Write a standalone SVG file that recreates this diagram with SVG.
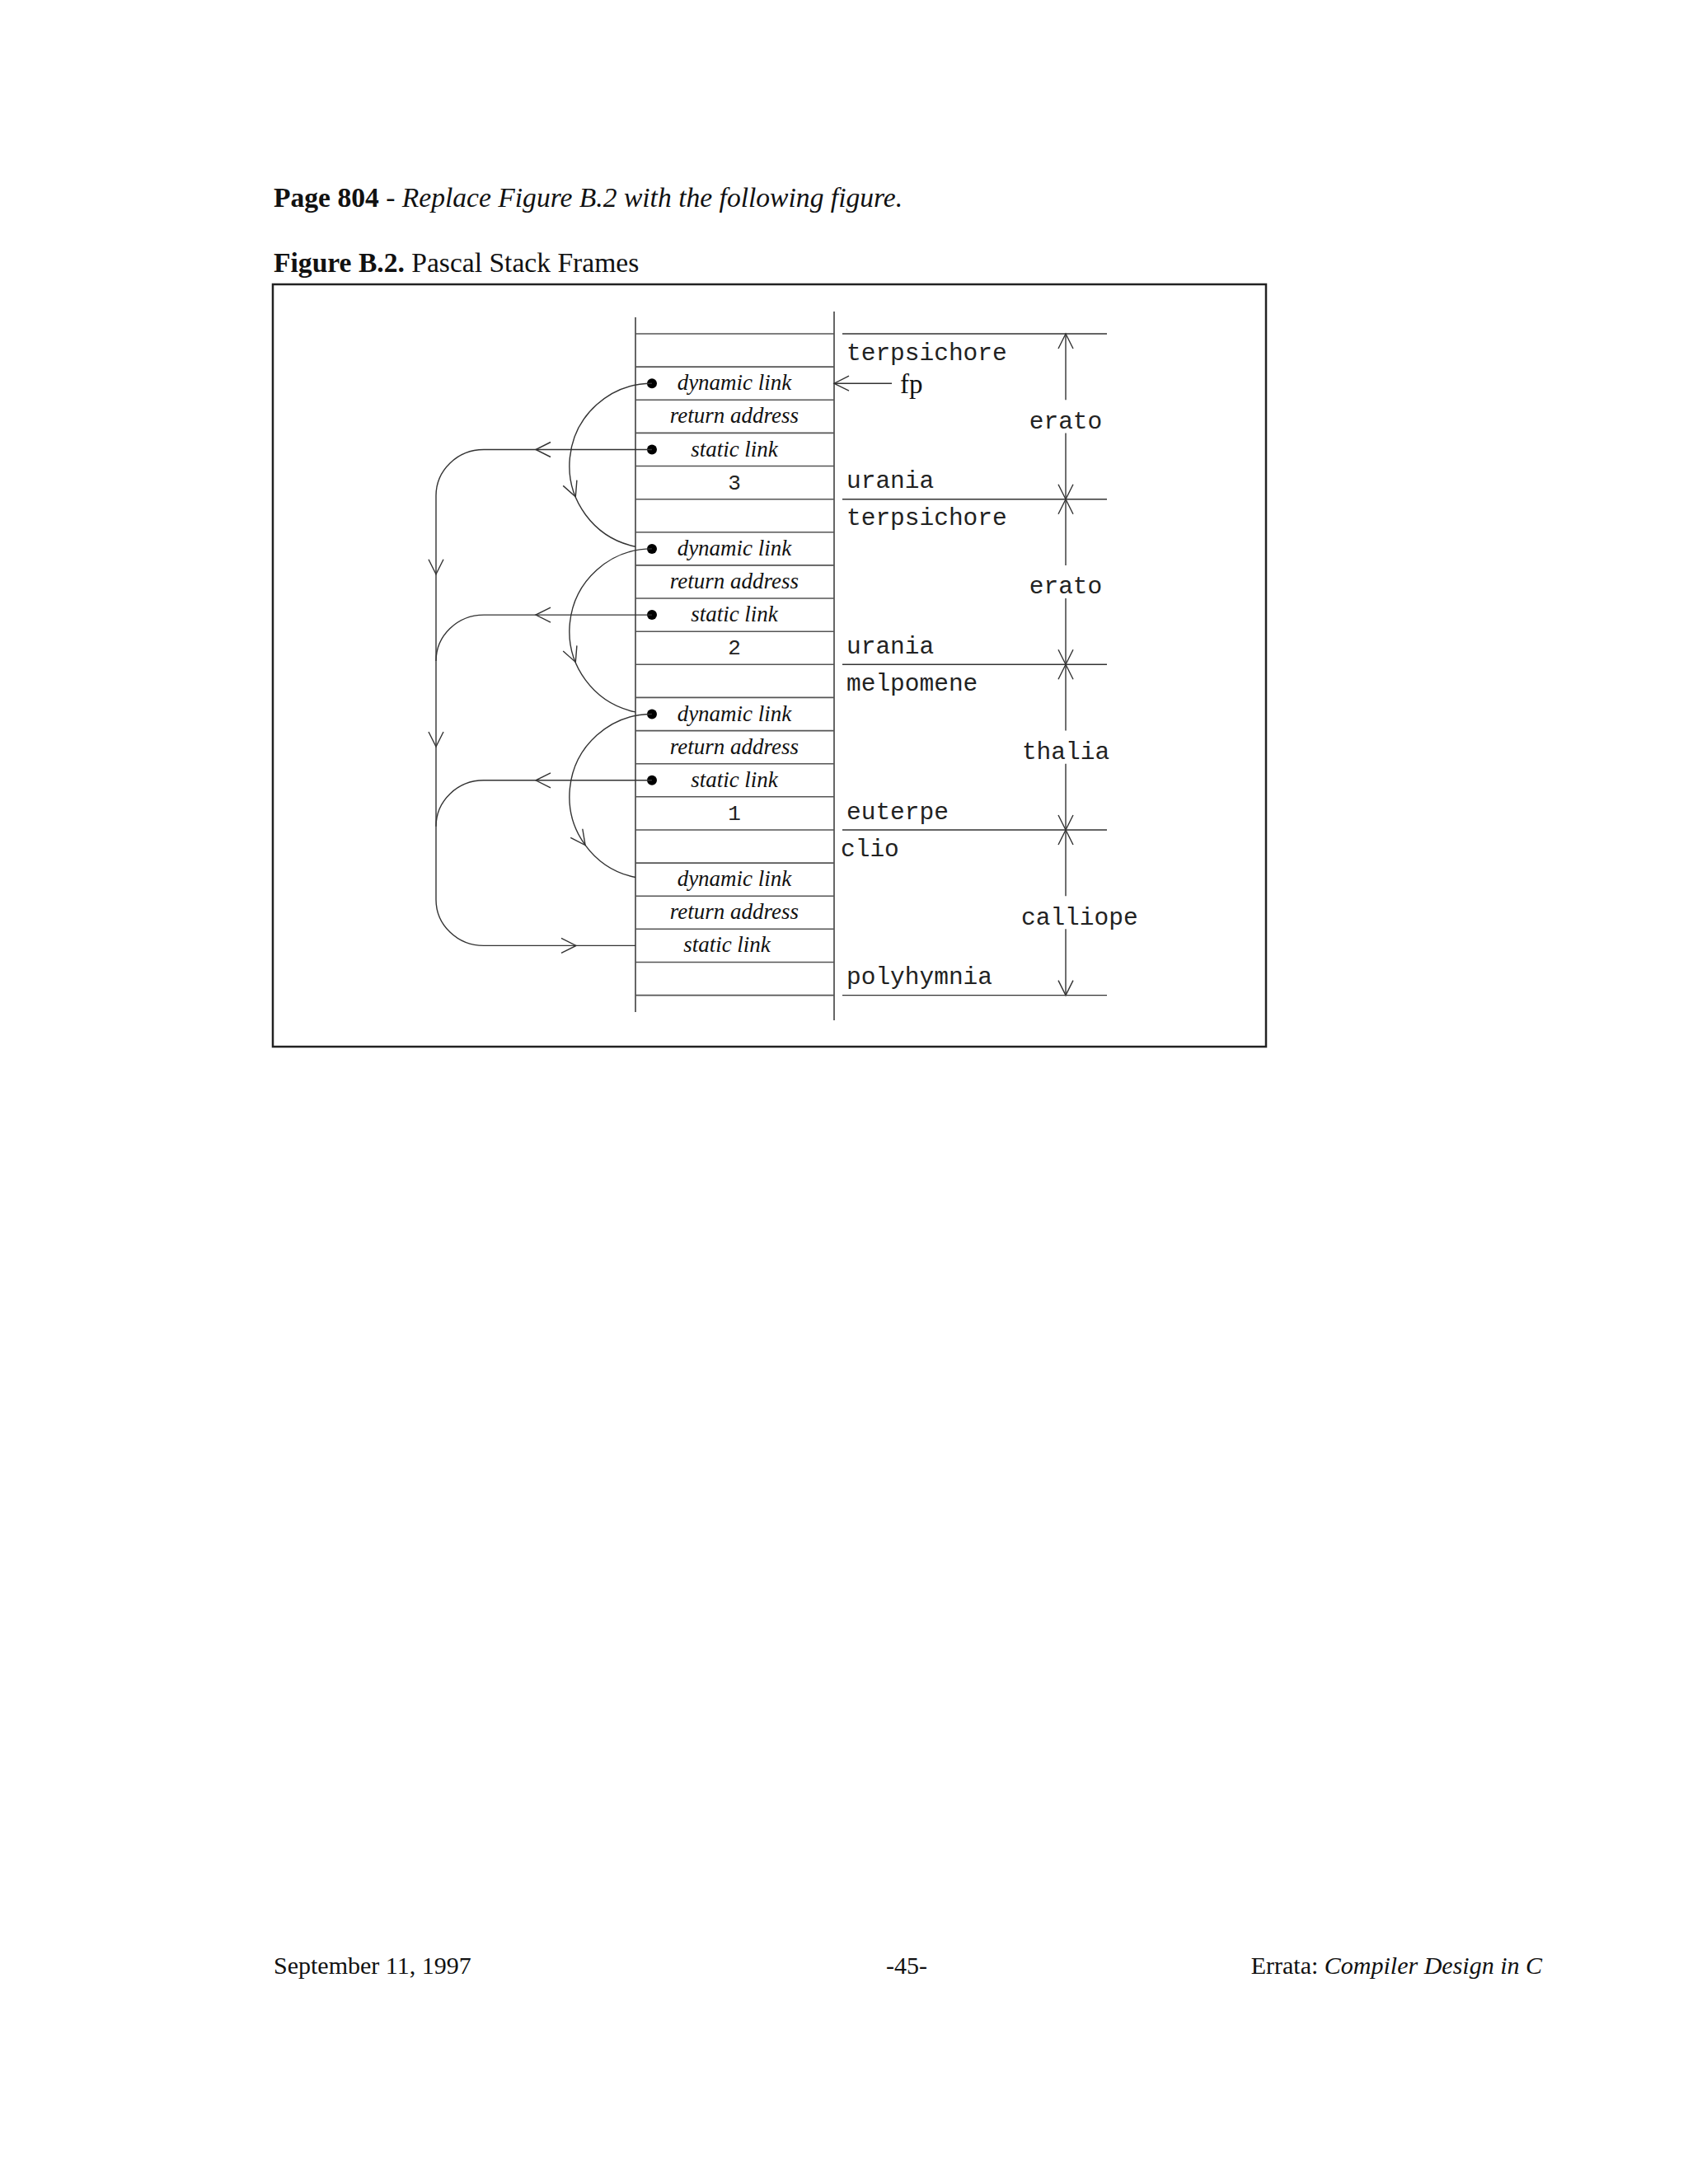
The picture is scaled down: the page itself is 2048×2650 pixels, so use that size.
<svg xmlns="http://www.w3.org/2000/svg" xmlns:xlink="http://www.w3.org/1999/xlink" width="2048" height="2650" viewBox="0 0 2048 2650">
<style>
.pg{font-family:"Liberation Serif","Times New Roman",serif;fill:#111}
.it{font-family:"Liberation Serif","Times New Roman",serif;font-style:italic;font-size:27px;fill:#111;text-anchor:middle}
.mono{font-family:"Liberation Mono","Courier New",monospace;font-size:29.5px;fill:#222}
.num{font-family:"Liberation Mono","Courier New",monospace;font-size:26px;fill:#222;text-anchor:middle}
.cell{fill:none;stroke:#555;stroke-width:1.6}
.vline{fill:none;stroke:#333;stroke-width:1.5}
.conn{fill:none;stroke:#333;stroke-width:1.4}
.dot{fill:#000}
</style>
<defs>
<path id="ah" d="M-18,-9 L0,0 L-18,9" fill="none" stroke="#333" stroke-width="1.4"/>
</defs>
<rect width="2048" height="2650" fill="#fff"/>

<g id="title">
<text class="pg" x="332" y="251" font-size="33.6"><tspan font-weight="bold">Page 804</tspan> - <tspan font-style="italic">Replace Figure B.2 with the following figure.</tspan></text>
<text class="pg" x="332" y="330" font-size="33.6"><tspan font-weight="bold">Figure B.2.</tspan> Pascal Stack Frames</text>
</g>

<g id="frame">
<rect x="331" y="345" width="1205" height="925" fill="none" stroke="#222" stroke-width="2.5"/>
</g>

<g id="stack">
<line class="vline" x1="771" y1="385" x2="771" y2="1228"/>
<line class="vline" x1="1012" y1="378" x2="1012" y2="1238"/>
<g class="cell">
<line x1="771" y1="405" x2="1012" y2="405"/>
<line x1="771" y1="445.1" x2="1012" y2="445.1"/>
<line x1="771" y1="485.3" x2="1012" y2="485.3"/>
<line x1="771" y1="525.4" x2="1012" y2="525.4"/>
<line x1="771" y1="565.5" x2="1012" y2="565.5"/>
<line x1="771" y1="605.7" x2="1012" y2="605.7"/>
<line x1="771" y1="645.8" x2="1012" y2="645.8"/>
<line x1="771" y1="685.9" x2="1012" y2="685.9"/>
<line x1="771" y1="726" x2="1012" y2="726"/>
<line x1="771" y1="766.2" x2="1012" y2="766.2"/>
<line x1="771" y1="806.3" x2="1012" y2="806.3"/>
<line x1="771" y1="846.4" x2="1012" y2="846.4"/>
<line x1="771" y1="886.6" x2="1012" y2="886.6"/>
<line x1="771" y1="926.7" x2="1012" y2="926.7"/>
<line x1="771" y1="966.8" x2="1012" y2="966.8"/>
<line x1="771" y1="1007" x2="1012" y2="1007"/>
<line x1="771" y1="1047.1" x2="1012" y2="1047.1"/>
<line x1="771" y1="1087.2" x2="1012" y2="1087.2"/>
<line x1="771" y1="1127.3" x2="1012" y2="1127.3"/>
<line x1="771" y1="1167.5" x2="1012" y2="1167.5"/>
<line x1="771" y1="1207.6" x2="1012" y2="1207.6"/>
</g>
</g>

<g id="frame3">
<g id="dyn3"><circle class="dot" cx="791" cy="465.2" r="6"/><text class="it" x="891" y="473.2">dynamic link</text></g>
<g id="ret3"><text class="it" x="891" y="513.4">return address</text></g>
<g id="stat3"><circle class="dot" cx="791" cy="545.5" r="6"/><text class="it" x="891" y="553.5">static link</text></g>
<g id="val3"><text class="num" x="891" y="593.6">3</text></g>
</g>
<g id="frame2">
<g id="dyn2"><circle class="dot" cx="791" cy="665.9" r="6"/><text class="it" x="891" y="673.9">dynamic link</text></g>
<g id="ret2"><text class="it" x="891" y="714">return address</text></g>
<g id="stat2"><circle class="dot" cx="791" cy="746.1" r="6"/><text class="it" x="891" y="754.1">static link</text></g>
<g id="val2"><text class="num" x="891" y="794.2">2</text></g>
</g>
<g id="frame1">
<g id="dyn1"><circle class="dot" cx="791" cy="866.5" r="6"/><text class="it" x="891" y="874.5">dynamic link</text></g>
<g id="ret1"><text class="it" x="891" y="914.6">return address</text></g>
<g id="stat1"><circle class="dot" cx="791" cy="946.8" r="6"/><text class="it" x="891" y="954.8">static link</text></g>
<g id="val1"><text class="num" x="891" y="994.9">1</text></g>
</g>
<g id="frame0">
<g id="dyn0"><text class="it" x="891" y="1075.1">dynamic link</text></g>
<g id="ret0"><text class="it" x="891" y="1115.3">return address</text></g>
<g id="stat0"><text class="it" x="882" y="1155.4">static link</text></g>
</g>

<g id="labels">
<text id="lab-terpsichore-1" class="mono" x="1027" y="436.5">terpsichore</text>
<text id="lab-urania-1" class="mono" x="1027" y="592.2">urania</text>
<text id="lab-terpsichore-2" class="mono" x="1027" y="637.2">terpsichore</text>
<text id="lab-urania-2" class="mono" x="1027" y="792.8">urania</text>
<text id="lab-melpomene" class="mono" x="1027" y="837.8">melpomene</text>
<text id="lab-euterpe" class="mono" x="1027" y="993.5">euterpe</text>
<text id="lab-clio" class="mono" x="1020" y="1038.5">clio</text>
<text id="lab-polyhymnia" class="mono" x="1027" y="1194.1">polyhymnia</text>
<text id="fp" class="pg" x="1092" y="477" font-size="33">fp</text>
<text id="dim-erato-1" class="mono" x="1293" y="519.5" text-anchor="middle">erato</text>
<text id="dim-erato-2" class="mono" x="1293" y="720.2" text-anchor="middle">erato</text>
<text id="dim-thalia" class="mono" x="1293" y="920.8" text-anchor="middle">thalia</text>
<text id="dim-calliope" class="mono" x="1239" y="1121.5">calliope</text>
</g>

<g id="connectors">
<g class="conn">
<path d="M791,545.5 H587 A58,56 0 0 0 529,601.5 V1091.4 A58,56 0 0 0 587,1147.4 H771"/>
<path d="M791,746.1 H587 A58,56 0 0 0 529,802.1"/>
<path d="M791,946.8 H587 A58,56 0 0 0 529,1002.8"/>
<path d="M791,465.2 A100,100 0 0 0 771,663.2"/>
<path d="M791,665.9 A100,100 0 0 0 771,863.9"/>
<path d="M791,866.5 A100,100 0 0 0 771,1064.5"/>
<path d="M1082,465.2 H1012"/>
<path d="M1022,405 H1343 M1022,605.7 H1343 M1022,806.3 H1343 M1022,1007 H1343 M1022,1207.6 H1343"/>
<path d="M1293,405 V485.3 M1293,525.4 V605.7 M1293,605.7 V685.9 M1293,726 V806.3 M1293,806.3 V886.6 M1293,926.7 V1007 M1293,1007 V1087.2 M1293,1127.3 V1207.6"/>
</g>
<use xlink:href="#ah" href="#ah" transform="translate(650,545.5) rotate(180)"/>
<use xlink:href="#ah" href="#ah" transform="translate(650,746.1) rotate(180)"/>
<use xlink:href="#ah" href="#ah" transform="translate(650,946.8) rotate(180)"/>
<use xlink:href="#ah" href="#ah" transform="translate(699,1147.4)"/>
<use xlink:href="#ah" href="#ah" transform="translate(529,696.7) rotate(90)"/>
<use xlink:href="#ah" href="#ah" transform="translate(529,906) rotate(90)"/>
<use xlink:href="#ah" href="#ah" transform="translate(698.3,602.7) rotate(68)"/>
<use xlink:href="#ah" href="#ah" transform="translate(698.3,803.4) rotate(68)"/>
<use xlink:href="#ah" href="#ah" transform="translate(710.1,1025.6) rotate(54)"/>
<use xlink:href="#ah" href="#ah" transform="translate(1012,465.2) rotate(180)"/>
<use xlink:href="#ah" href="#ah" transform="translate(1293,405) rotate(-90)"/>
<use xlink:href="#ah" href="#ah" transform="translate(1293,605.7) rotate(90)"/>
<use xlink:href="#ah" href="#ah" transform="translate(1293,605.7) rotate(-90)"/>
<use xlink:href="#ah" href="#ah" transform="translate(1293,806.3) rotate(90)"/>
<use xlink:href="#ah" href="#ah" transform="translate(1293,806.3) rotate(-90)"/>
<use xlink:href="#ah" href="#ah" transform="translate(1293,1007) rotate(90)"/>
<use xlink:href="#ah" href="#ah" transform="translate(1293,1007) rotate(-90)"/>
<use xlink:href="#ah" href="#ah" transform="translate(1293,1207.6) rotate(90)"/>
</g>

<g id="footer">
<text class="pg" x="332" y="2395" font-size="30">September 11, 1997</text>
<text class="pg" x="1100" y="2395" font-size="30" text-anchor="middle">-45-</text>
<text class="pg" x="1871" y="2395" font-size="30" text-anchor="end">Errata: <tspan font-style="italic">Compiler Design in C</tspan></text>
</g>
</svg>
